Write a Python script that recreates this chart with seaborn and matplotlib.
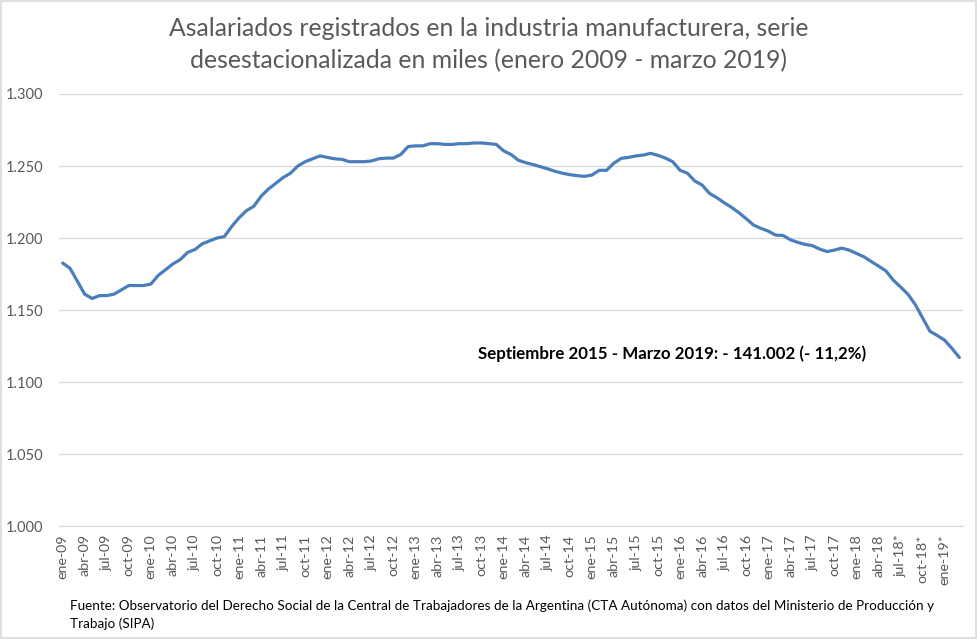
import numpy as np
import pandas as pd
import matplotlib
matplotlib.use("Agg")
import matplotlib.pyplot as plt
import seaborn as sns
from matplotlib.ticker import FuncFormatter
from matplotlib.patches import Rectangle

# monthly values, thousands of workers, ene-09 .. mar-19
values = [
    1182.6, 1179.0, 1170.0, 1161.0, 1158.0, 1160.0, 1160.0, 1161.0, 1164.0, 1167.0,
    1167.0, 1167.0, 1168.0, 1174.0, 1178.0, 1182.0, 1185.0, 1190.0, 1192.0, 1196.0,
    1198.0, 1200.0, 1201.0, 1208.0, 1214.0, 1219.0, 1222.0, 1229.0, 1234.0, 1238.0,
    1242.0, 1245.0, 1250.0, 1253.0, 1255.0, 1257.0, 1256.0, 1255.0, 1254.6, 1253.0,
    1253.0, 1253.0, 1253.5, 1255.0, 1255.5, 1255.5, 1258.0, 1263.5, 1264.0, 1264.0,
    1265.5, 1265.5, 1265.0, 1265.0, 1265.5, 1265.5, 1266.0, 1266.0, 1265.5, 1265.0,
    1260.5, 1258.0, 1254.0, 1252.3, 1251.0, 1249.5, 1248.0, 1246.3, 1245.0, 1244.0,
    1243.3, 1242.8, 1243.7, 1247.0, 1247.0, 1252.0, 1255.3, 1256.0, 1257.0, 1257.6,
    1258.8, 1257.4, 1255.5, 1253.0, 1247.0, 1245.0, 1239.6, 1236.8, 1231.0, 1228.0,
    1224.5, 1221.3, 1217.6, 1213.4, 1209.0, 1206.7, 1204.8, 1202.0, 1201.8, 1198.8,
    1197.0, 1195.6, 1194.7, 1192.3, 1190.6, 1191.6, 1193.0, 1191.6, 1189.3, 1187.0,
    1183.7, 1180.5, 1177.2, 1170.8, 1166.0, 1161.0, 1153.8, 1144.5, 1135.2, 1132.3,
    1129.0, 1123.3, 1117.0,
]

# one label every three months
tick_labels = [
    "ene-09", "abr-09", "jul-09", "oct-09", "ene-10", "abr-10", "jul-10", "oct-10",
    "ene-11", "abr-11", "jul-11", "oct-11", "ene-12", "abr-12", "jul-12", "oct-12",
    "ene-13", "abr-13", "jul-13", "oct-13", "ene-14", "abr-14", "jul-14", "oct-14",
    "ene-15", "abr-15", "jul-15", "oct-15", "ene-16", "abr-16", "jul-16", "oct-16",
    "ene-17", "abr-17", "jul-17", "oct-17", "ene-18", "abr-18", "jul-18*", "oct-18*",
    "ene-19*",
]
y_ticks = [1000, 1050, 1100, 1150, 1200, 1250, 1300]

title = ("Asalariados registrados en la industria manufacturera, serie\n"
         "desestacionalizada en miles (enero 2009 - marzo 2019)")
note = "Septiembre 2015 - Marzo 2019: - 141.002 (- 11,2%)"
source = ("Fuente: Observatorio del Derecho Social de la Central de Trabajadores de la "
          "Argentina (CTA Autónoma) con datos del Ministerio de Producción y\nTrabajo (SIPA)")

df = pd.DataFrame({"mes": np.arange(len(values)), "miles": values})

sns.set_style("white")
plt.rcParams["font.family"] = ["Lato", "DejaVu Sans"]

fig = plt.figure(figsize=(9.78, 6.39), dpi=100)
ax = fig.add_axes([0.0603, 0.1768, 0.9244, 0.6761])

sns.lineplot(data=df, x="mes", y="miles", ax=ax, color="#4A7EBB", linewidth=2.3)

ax.set_xlim(-0.5, len(values) - 0.5)
ax.set_ylim(y_ticks[0], y_ticks[-1])
ax.set_yticks(y_ticks)
ax.yaxis.set_major_formatter(FuncFormatter(lambda v, p: f"{v:,.0f}".replace(",", ".")))
ax.set_xticks(np.arange(0, len(values), 3))
ax.set_xticklabels(tick_labels, rotation=90)
ax.set_xlabel("")
ax.set_ylabel("")

ax.grid(axis="y", color="#D9D9D9", linewidth=0.9)
ax.set_axisbelow(True)
for side in ["top", "right", "left"]:
    ax.spines[side].set_visible(False)
ax.spines["bottom"].set_color("#D9D9D9")
ax.tick_params(axis="y", length=0, pad=11, labelsize=10.5, labelcolor="#595959")
ax.tick_params(axis="x", length=0, pad=6, labelsize=10.3, labelcolor="#595959")

fig.text(0.5, 0.973, title, ha="center", va="top", fontsize=17.8, color="#595959",
         linespacing=1.45)
fig.text(0.489, 0.447, note, ha="left", va="center", fontsize=12.2,
         fontweight="bold", color="black")
fig.text(0.072, 0.014, source, ha="left", va="bottom", fontsize=9.7, color="black",
         linespacing=1.5)

fig.patches.append(Rectangle((0.001, 0.002), 0.997, 0.996, transform=fig.transFigure,
                             fill=False, edgecolor="#D9D9D9", linewidth=1.2))

fig.savefig("out.png", dpi=100)
